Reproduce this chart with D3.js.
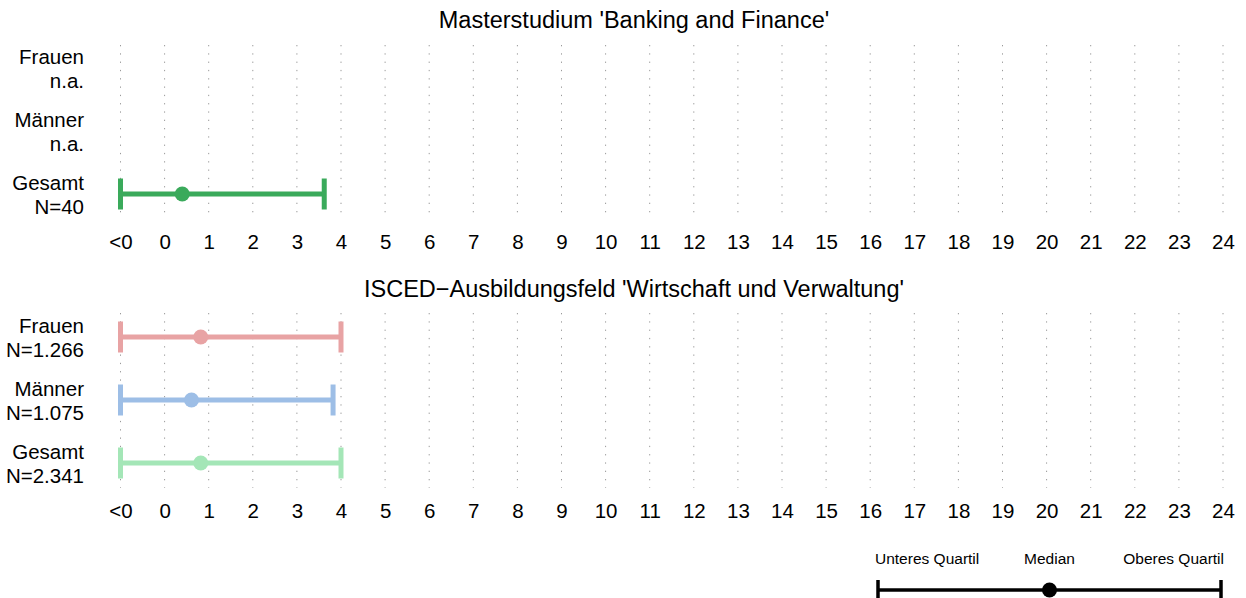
<!DOCTYPE html>
<html>
<head>
<meta charset="utf-8">
<script src="https://cdn.jsdelivr.net/npm/d3@7"></script>
<style>
  body { margin: 0; background: #fff; }
  text { font-family: "Liberation Sans", Arial, sans-serif; fill: #000; }
</style>
</head>
<body>
<div id="chart"></div>
<script>
// Daten
const rowLabels = ["Frauen", "Männer", "Gesamt"];
const tickValues = d3.range(-1, 25);
const tickLabels = ["<0", "0", "1", "2", "3", "4", "5", "6", "7", "8", "9", "10", "11", "12",
  "13", "14", "15", "16", "17", "18", "19", "20", "21", "22", "23", "24"];

// Panel 1: Masterstudium
const title1 = "Masterstudium 'Banking and Finance'";
const n1 = ["n.a.", "n.a.", "N=40"];
const lower1 = [null, null, -1];
const median1 = [null, null, 0.4];
const upper1 = [null, null, 3.62];
const colors1 = ["#e8a3a4", "#9dbee6", "#3aaa5b"];

// Panel 2: ISCED
const title2 = "ISCED\u2212Ausbildungsfeld 'Wirtschaft und Verwaltung'";
const n2 = ["N=1.266", "N=1.075", "N=2.341"];
const lower2 = [-1, -1, -1];
const median2 = [0.82, 0.61, 0.82];
const upper2 = [4, 3.82, 4];
const colors2 = ["#e8a3a4", "#9dbee6", "#a4e6b7"];

const legendLabels = ["Unteres Quartil", "Median", "Oberes Quartil"];

const W = 1246, H = 598;
const svg = d3.select("#chart").append("svg")
  .attr("width", W).attr("height", H);

const x = d3.scaleLinear().domain([-1, 24]).range([120.5, 1223]);

function drawPanel(cfg) {
  const g = svg.append("g");
  const y = d3.scalePoint().domain(rowLabels).range(cfg.rowRange);

  // Titel
  g.append("text")
    .attr("x", 634).attr("y", cfg.titleY)
    .attr("text-anchor", "middle")
    .style("font-size", "23.5px")
    .text(cfg.title);

  // Gitterlinien (gepunktet)
  g.selectAll("line.grid")
    .data(tickValues)
    .enter().append("line")
    .attr("class", "grid")
    .attr("x1", d => x(d)).attr("x2", d => x(d))
    .attr("y1", cfg.gridTop).attr("y2", cfg.gridBottom)
    .attr("stroke", "#9a9a9a")
    .attr("stroke-width", 1)
    .attr("stroke-dasharray", "1.3,7");

  // x-Achse
  const axis = d3.axisBottom(x)
    .tickValues(tickValues)
    .tickFormat((d, i) => tickLabels[i])
    .tickSize(0).tickPadding(0);
  const ax = g.append("g")
    .attr("transform", `translate(0,${cfg.axisY})`)
    .call(axis);
  ax.select(".domain").remove();
  ax.selectAll("text")
    .attr("dy", null)
    .attr("y", 0)
    .style("font-size", "20.5px")
    .style("font-family", "'Liberation Sans', Arial, sans-serif")
    .attr("fill", "#000");

  // Zeilenbeschriftung
  rowLabels.forEach((r, i) => {
    const t = g.append("text")
      .attr("text-anchor", "end")
      .style("font-size", "20.5px");
    t.append("tspan").attr("x", 84).attr("y", y(r) - 4).text(r);
    t.append("tspan").attr("x", 84).attr("y", y(r) + 20).text(cfg.n[i]);
  });

  // Fehlerbalken
  const rows = rowLabels.map((r, i) => ({
    row: r, lo: cfg.lower[i], med: cfg.median[i], hi: cfg.upper[i], col: cfg.colors[i]
  })).filter(d => d.med !== null);

  const bars = g.selectAll("g.bar").data(rows).enter().append("g").attr("class", "bar");
  bars.append("line")
    .attr("x1", d => x(d.lo)).attr("x2", d => x(d.hi))
    .attr("y1", d => y(d.row)).attr("y2", d => y(d.row))
    .attr("stroke", d => d.col).attr("stroke-width", 5);
  bars.append("line")
    .attr("x1", d => x(d.lo)).attr("x2", d => x(d.lo))
    .attr("y1", d => y(d.row) - 15.5).attr("y2", d => y(d.row) + 15.5)
    .attr("stroke", d => d.col).attr("stroke-width", 5);
  bars.append("line")
    .attr("x1", d => x(d.hi)).attr("x2", d => x(d.hi))
    .attr("y1", d => y(d.row) - 15.5).attr("y2", d => y(d.row) + 15.5)
    .attr("stroke", d => d.col).attr("stroke-width", 5);
  bars.append("circle")
    .attr("cx", d => x(d.med)).attr("cy", d => y(d.row))
    .attr("r", 7.5)
    .attr("fill", d => d.col);
}

drawPanel({
  title: title1, titleY: 28, rowRange: [68, 194], gridTop: 45, gridBottom: 219,
  axisY: 249, n: n1, lower: lower1, median: median1, upper: upper1, colors: colors1
});
drawPanel({
  title: title2, titleY: 297, rowRange: [337, 463], gridTop: 313, gridBottom: 488,
  axisY: 518, n: n2, lower: lower2, median: median2, upper: upper2, colors: colors2
});

// Legende
const lx = d3.scaleLinear().domain([0, 1]).range([878, 1221]);
const ly = 590;
const leg = svg.append("g");
leg.selectAll("text")
  .data(legendLabels)
  .enter().append("text")
  .attr("x", (d, i) => [lx(0) - 3, lx(0.5), lx(1) + 3][i])
  .attr("y", 564)
  .attr("text-anchor", (d, i) => ["start", "middle", "end"][i])
  .style("font-size", "15.5px")
  .text(d => d);
leg.append("line")
  .attr("x1", lx(0)).attr("x2", lx(1))
  .attr("y1", ly).attr("y2", ly)
  .attr("stroke", "#000").attr("stroke-width", 3.5);
[0, 1].forEach(v => {
  leg.append("line")
    .attr("x1", lx(v)).attr("x2", lx(v))
    .attr("y1", ly - 10).attr("y2", ly + 12)
    .attr("stroke", "#000").attr("stroke-width", 3.5);
});
leg.append("circle")
  .attr("cx", lx(0.5)).attr("cy", ly)
  .attr("r", 7.5).attr("fill", "#000");
</script>
</body>
</html>
